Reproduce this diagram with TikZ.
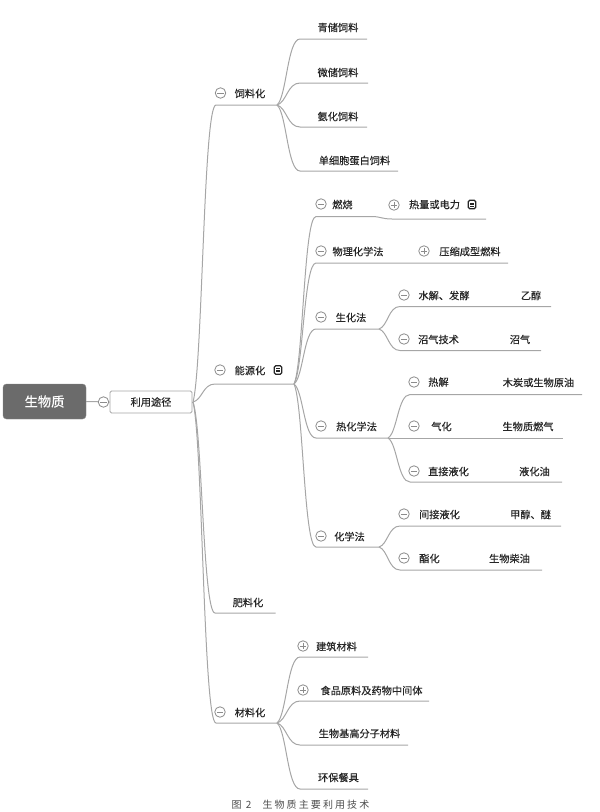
\documentclass[tikz,border=0pt]{standalone}
\usepackage{fontspec}
\setmainfont[FakeBold=0.35]{Noto Sans CJK SC}
\newfontfamily\capfont[LetterSpace=21]{Noto Sans CJK SC}
\usetikzlibrary{calc}
\definecolor{linec}{HTML}{A6A6A6}
\definecolor{togc}{HTML}{8C8C8C}
\definecolor{textc}{HTML}{262626}
\tikzset{
  lab/.style={inner sep=0pt,yshift=-0.5pt,text=textc,font=\fontsize{10.2}{12}\selectfont},
  togg/.style={circle,draw=togc,fill=white,line width=0.8pt,minimum size=10.5pt,inner sep=0pt},
  togmark/.style={draw=togc,line width=0.8pt},
  conn/.style={draw=linec,line width=1pt},
  docbox/.style={draw=black!85,fill=white,rounded corners=1.5pt,line width=1.4pt,minimum width=7.5pt,minimum height=8.5pt,inner sep=0pt},
}
% connector: hub -> curve -> bend -> straight -> end
\newcommand{\branch}[3]{%
  \path[conn] let \p1=(#1),\p2=(#2) in (\p1) .. controls ({\x1+.42*(\x2-\x1)},{\y1+.12*(\y2-\y1)}) and ({\x1+.45*(\x2-\x1)},\y2) .. (\p2) -- (#3);}
\newcommand{\minusn}[3]{\node[togg] (#1) at (#2,#3) {};
  \draw[togmark] ($(#1.center)+(-3.2,0)$) -- ($(#1.center)+(3.2,0)$);}
\newcommand{\plusn}[3]{\node[togg] (#1) at (#2,#3) {};
  \draw[togmark] ($(#1.center)+(-3.2,0)$) -- ($(#1.center)+(3.2,0)$);
  \draw[togmark] ($(#1.center)+(0,-3.2)$) -- ($(#1.center)+(0,3.2)$);}
\newcommand{\docn}[3]{\node[docbox] (#1) at (#2,#3) {};
  \draw[black!85,line width=0.6pt] ($(#1.center)+(-2,-1.5)$) -- ($(#1.center)+(2,-1.5)$)
    ($(#1.center)+(-2,0)$) -- ($(#1.center)+(2,0)$)
    ($(#1.center)+(-2,1.5)$) -- ($(#1.center)+(2,1.5)$);}
\newcommand{\tn}[4]{\node[lab] (#1) at (#2,#3) {#4};}
\newcommand{\cn}[3]{\coordinate (#1) at (#2,#3);}
\begin{document}
\begin{tikzpicture}[x=1pt,y=-1pt]
\useasboundingbox (0,0) rectangle (600,812);
% hubs
\cn{hubroot}{193}{402}
\cn{hubfeed}{277}{105}
\cn{hubener}{294}{384}
\cn{hubmat}{277}{723}
\cn{hubbio}{379}{329}
\cn{hubtherm}{388}{438}
\cn{hubchem}{379}{547}
% level-1 connectors
\cn{bfeed}{216}{105}
\cn{bener}{215}{384}
\cn{efert}{275.5}{613}
\cn{bfert}{215}{613}
\cn{bmat}{216}{723}
\branch{hubroot}{bfeed}{hubfeed}
\branch{hubroot}{bener}{hubener}
\branch{hubroot}{bfert}{efert}
\branch{hubroot}{bmat}{hubmat}
% feed
\cn{b1}{300}{39}\cn{e1}{367}{39}
\cn{b2}{300}{83}\cn{e2}{368}{83}
\cn{b3}{300}{127}\cn{e3}{367}{127}
\cn{b4}{300}{171}\cn{e4}{398}{171}
\branch{hubfeed}{b1}{e1}\branch{hubfeed}{b2}{e2}
\branch{hubfeed}{b3}{e3}\branch{hubfeed}{b4}{e4}
% energy
\cn{b5}{316}{216.5}\cn{m5}{372}{216.5}\cn{e5}{486}{219}
\cn{b6}{316}{263}\cn{e6}{508}{263}
\cn{b7}{316}{329}
\cn{b8}{316}{438}
\cn{b9}{316}{547}
\branch{hubener}{b5}{m5}
\draw[conn] (m5) .. controls (380,216.5) and (382,219) .. (392,219) -- (e5);
\branch{hubener}{b6}{e6}
\branch{hubener}{b7}{hubbio}
\branch{hubener}{b8}{hubtherm}
\branch{hubener}{b9}{hubchem}
% bio
\cn{b10}{400}{306.5}\cn{e10}{551}{306.5}
\cn{b11}{400}{350.5}\cn{e11}{541}{350.5}
\branch{hubbio}{b10}{e10}\branch{hubbio}{b11}{e11}
% thermo
\cn{b12}{410}{394.5}\cn{e12}{582}{394.5}
\cn{e13}{563}{438}
\cn{b14}{410}{482}\cn{e14}{562}{482}
\branch{hubtherm}{b12}{e12}\draw[conn] (hubtherm) -- (e13);\branch{hubtherm}{b14}{e14}
% chem
\cn{b15}{400}{526}\cn{e15}{561}{526}
\cn{b16}{400}{570}\cn{e16}{542}{570}
\branch{hubchem}{b15}{e15}\branch{hubchem}{b16}{e16}
% material
\cn{b17}{300}{657}\cn{e17}{368}{657}
\cn{b18}{300}{701}\cn{e18}{429}{701}
\cn{b19}{300}{745}\cn{e19}{408}{745}
\cn{b20}{300}{789}\cn{e20}{368}{789}
\branch{hubmat}{b17}{e17}\branch{hubmat}{b18}{e18}\branch{hubmat}{b19}{e19}\branch{hubmat}{b20}{e20}
% root
\node[fill=black!58,draw=black!48,rounded corners=3.5pt,minimum width=83pt,minimum height=35pt,inner sep=0pt,text=white,font=\fontsize{13.3}{15}\selectfont] (root) at (44.5,401.5) {生物质};
\node[draw=black!35,fill=white,rounded corners=1.5pt,line width=0.9pt,minimum width=82pt,minimum height=22pt,inner sep=0pt,text=textc,font=\fontsize{10.2}{12}\selectfont] (way) at (151,402) {利用途径};
\draw[conn] (root.east) -- (way.west);
\draw[conn] (way.east) -- (hubroot);
\minusn{t0}{103.5}{402}
% level 1 labels
\minusn{t1}{220.5}{93}\tn{n1}{250}{93}{饲料化}
\minusn{t2}{220}{370}\tn{n2}{250}{370}{能源化}\docn{d2}{278}{370}
\tn{n3}{248}{602}{肥料化}
\minusn{t4}{220}{712}\tn{n4}{250}{712}{材料化}
% feed
\tn{f1}{338}{27}{青储饲料}
\tn{f2}{338}{72}{微储饲料}
\tn{f3}{338}{116}{氨化饲料}
\tn{f4}{354.5}{160}{单细胞蛋白饲料}
% energy
\minusn{t5}{321}{204}\tn{g1}{342.5}{204}{燃烧}
\plusn{t6}{394}{205}\tn{g2}{434.5}{204}{热量或电力}\docn{d6}{472}{204.5}
\minusn{t7}{321}{251}\tn{g3}{358}{251}{物理化学法}
\plusn{t8}{424}{251}\tn{g4}{470}{251}{压缩成型燃料}
\minusn{t9}{321}{317}\tn{g5}{351}{317}{生化法}
\minusn{t10}{404}{295}\tn{g6}{444}{295}{水解、发酵}\tn{g7}{531}{295}{乙醇}
\minusn{t11}{404}{339}\tn{g8}{438.5}{339}{沼气技术}\tn{g9}{520}{339}{沼气}
\minusn{t12}{321}{426}\tn{g10}{356.5}{426}{热化学法}
\minusn{t13}{414}{382}\tn{g11}{438.5}{381.5}{热解}\tn{g12}{538.5}{382}{木炭或生物原油}
\minusn{t14}{414}{426}\tn{g13}{441.5}{426}{气化}\tn{g14}{528}{426}{生物质燃气}
\minusn{t15}{414}{471}\tn{g15}{448.5}{471}{直接液化}\tn{g16}{534.5}{471}{液化油}
\minusn{t16}{321}{536}\tn{g17}{349.5}{536}{化学法}
\minusn{t17}{404}{514}\tn{g18}{439.5}{514}{间接液化}\tn{g19}{530.5}{514}{甲醇、醚}
\minusn{t18}{404}{558}\tn{g20}{429.5}{558}{酯化}\tn{g21}{509.5}{558}{生物柴油}
% material
\plusn{t19}{303}{646}\tn{m1}{336.5}{646}{建筑材料}
\plusn{t20}{303}{690}\tn{m2}{371.5}{690}{食品原料及药物中间体}
\tn{m3}{359.5}{733}{生物基高分子材料}
\tn{m4}{338.5}{777}{环保餐具}
% caption
\node[inner sep=0pt,text=black!70,font=\fontsize{10}{11}\capfont] (cap) at (300.5,805) {图 2\hspace{11pt}生物质主要利用技术};
\end{tikzpicture}
\end{document}
